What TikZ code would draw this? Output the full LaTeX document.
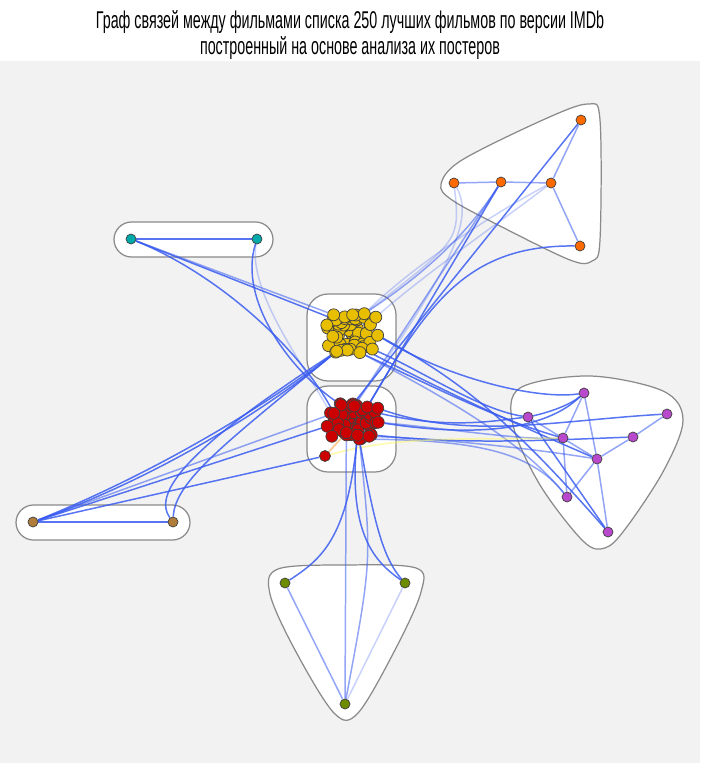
\documentclass[tikz,border=0pt]{standalone}
\usepackage{fontspec}
\newfontfamily\titlefont[FakeStretch=0.59]{Liberation Sans}
\usepackage{tikz}
\definecolor{panel-gray}{HTML}{F2F2F2}
\definecolor{hull-gray}{HTML}{8A8A8A}
\definecolor{link-blue}{HTML}{3A5CF0}
\definecolor{film-orange}{HTML}{FF6A00}
\definecolor{film-teal}{HTML}{00AAAA}
\definecolor{film-brown}{HTML}{B07D3A}
\definecolor{film-olive}{HTML}{6E8C00}
\definecolor{film-purple}{HTML}{B848CC}
\definecolor{film-yellow}{HTML}{E8BE00}
\definecolor{film-red}{HTML}{CC0000}
\pgfdeclarelayer{hulls}
\pgfdeclarelayer{links}
\pgfsetlayers{hulls,links,main}
\tikzset{
  film/.style={circle, draw=black!75, line width=0.4pt, fill=#1, inner sep=0pt, minimum size=0.2cm},
  blob-film/.style={film=#1, minimum size=0.24cm},
  cluster-hull/.style={draw=hull-gray, fill=white, line width=0.7pt},
  link/.style={draw=link-blue, line width=0.85pt, opacity=0.85},
  link-mid/.style={link, opacity=0.55},
  link-light/.style={link, opacity=0.28},
  title-text/.style={font=\titlefont\fontsize{13.8}{14.8}\selectfont, align=center, inner sep=0pt},
}

\begin{document}
\begin{tikzpicture}[x=0.02cm, y=-0.02cm]
\useasboundingbox (0,0) rectangle (700,763);
\node[title-text] (title) at (350,35) {Граф связей между фильмами списка 250 лучших фильмов по версии IMDb\\построенный на основе анализа их постеров};

% outer groups
\node[film=film-orange] (o1) at (454,183) {};
\node[film=film-orange] (o2) at (501,182) {};
\node[film=film-orange] (o3) at (551,183) {};
\node[film=film-orange] (o4) at (581,120) {};
\node[film=film-orange] (o5) at (580,246) {};
\node[film=film-teal] (t1) at (131,239) {};
\node[film=film-teal] (t2) at (257,239) {};
\node[film=film-brown] (b1) at (33,522) {};
\node[film=film-brown] (b2) at (173,522) {};
\node[film=film-olive] (g1) at (285,583) {};
\node[film=film-olive] (g2) at (405,583) {};
\node[film=film-olive] (g3) at (345,704) {};
\node[film=film-purple] (p1) at (584,393) {};
\node[film=film-purple] (p2) at (528,417) {};
\node[film=film-purple] (p3) at (667,414) {};
\node[film=film-purple] (p4) at (563,438) {};
\node[film=film-purple] (p5) at (633,437) {};
\node[film=film-purple] (p6) at (597,459) {};
\node[film=film-purple] (p7) at (567,497) {};
\node[film=film-purple] (p8) at (608,532) {};

% the two dense groups
\foreach \i in {1,...,60} {
  \pgfmathsetmacro{\px}{351+24*sqrt(\i/60)*cos(\i*137.508)+4.5*sin(\i*73)}
  \pgfmathsetmacro{\py}{333+23*sqrt(\i/60)*sin(\i*137.508)+4.5*cos(\i*51)}
  \node[blob-film=film-yellow] (y\i) at (\px,\py) {};
}
\node[film=film-red, minimum size=0.22cm] (rout) at (325,456) {};
\foreach \i in {1,...,60} {
  \pgfmathsetmacro{\px}{354+25*sqrt(\i/60)*cos(\i*137.508)+4*cos(\i*67)}
  \pgfmathsetmacro{\py}{421+19*sqrt(\i/60)*sin(\i*137.508)+4*sin(\i*59)}
  \node[blob-film=film-red] (r\i) at (\px,\py) {};
}

\begin{pgfonlayer}{hulls}
\fill[panel-gray] (0,61) rectangle (700,763);
\draw[cluster-hull, rounded corners=12pt] (307,294) rectangle (396,381);
\draw[cluster-hull, rounded corners=12pt] (307,386) rectangle (396,472);
\draw[cluster-hull, rounded corners=10pt] (114,222) rectangle (273,257);
\draw[cluster-hull, rounded corners=10pt] (16,505) rectangle (190,540);
\draw[cluster-hull] plot[smooth cycle, tension=0.55] coordinates {(441,184) (462,160) (545,119) (588,104) (600,120) (600,240) (592,261) (570,260) (500,226) (452,200)};
\draw[cluster-hull] plot[smooth cycle, tension=0.55] coordinates {(520,388) (590,376) (663,391) (683,420) (664,470) (626,528) (605,548) (583,541) (540,485) (513,425)};
\draw[cluster-hull] plot[smooth cycle, tension=0.55] coordinates {(278,569) (345,565) (416,568) (421,592) (396,648) (358,713) (334,713) (295,650) (270,594)};
\end{pgfonlayer}

\begin{pgfonlayer}{links}
% within groups
\draw[link] (t1) -- (t2);
\draw[link] (b1) -- (b2);
\draw[link-mid] (o1) -- (o2);
\draw[link-mid] (o2) -- (o3);
\draw[link-mid] (o3) -- (o4);
\draw[link-mid] (o3) -- (o5);
\draw[link-mid] (g1) -- (g3);
\draw[link-light] (g2) -- (g3);
\draw[link] (p2) .. controls (550,412) and (570,405) .. (p1);
\draw[link-mid] (p1) -- (p4);
\draw[link-mid] (p1) -- (p6);
\draw[link] (p2) -- (p8);
\draw[link-mid] (p2) -- (p6);
\draw[link-mid] (p4) -- (p7);
\draw[link-mid] (p5) -- (p3);
\draw[link-mid] (p5) -- (p6);
\draw[link-mid] (p6) -- (p7);
\draw[link-mid] (p6) -- (p8);
% teal and brown
\draw[link] (t1) -- (y46);
\draw[link-mid] (t1) -- (y54);
\draw[link] (t1) .. controls (220,275) and (300,350) .. (r59);
\draw[link] (t2) .. controls (238,300) and (290,370) .. (r54);
\draw[link-light] (t2) .. controls (248,290) and (300,360) .. (r46);
\draw[link] (b1) .. controls (150,475) and (260,410) .. (y56);
\draw[link] (b1) .. controls (150,480) and (260,415) .. (y48);
\draw[link] (b1) -- (r51);
\draw[link] (b1) -- (rout);
\draw[link-mid] (b1) -- (r59);
\draw[link] (b2) .. controls (150,490) and (200,440) .. (y48);
\draw[link] (b2) .. controls (175,480) and (230,440) .. (y56);
\draw[orange!70, opacity=0.6, line width=1pt] (rout) -- (r48);
% up to the orange group
\draw[link-light] (y52) .. controls (420,260) and (500,210) .. (o3);
\draw[link-light] (y60) .. controls (430,270) and (510,215) .. (o3);
\draw[link-mid] (y52) .. controls (430,270) and (470,230) .. (o2);
\draw[link] (r49) -- (o4);
\draw[link] (r52) -- (o2);
\draw[link-mid] (r57) -- (o2);
\draw[link] (r52) .. controls (430,300) and (470,245) .. (o5);
\draw[link-light] (o1) .. controls (475,220) and (450,270) .. (r57);
\draw[link-light] (o1) .. controls (460,240) .. (y52);
% across to the purple group
\draw[link] (y50) .. controls (420,370) and (480,410) .. (p2);
\draw[link] (y58) .. controls (440,390) and (500,420) .. (p4);
\draw[link] (y45) .. controls (450,395) and (530,430) .. (p6);
\draw[link] (y55) .. controls (460,380) and (510,420) .. (p8);
\draw[link-mid] (y58) .. controls (450,400) and (520,440) .. (p7);
\draw[link] (y55) .. controls (450,380) and (540,400) .. (p1);
\draw[link] (r55) .. controls (460,435) and (540,435) .. (p1);
\draw[link] (r47) .. controls (450,430) and (500,420) .. (p2);
\draw[link] (r60) .. controls (470,440) and (560,420) .. (p3);
\draw[link] (r50) .. controls (470,445) and (550,440) .. (p5);
\draw[link-mid] (r58) .. controls (460,440) and (540,450) .. (p6);
\draw[link-mid] (r45) .. controls (470,440) and (530,450) .. (p7);
\draw[link-mid] (r55) .. controls (460,430) and (520,440) .. (p4);
\draw[yellow!60, opacity=0.5, line width=1pt] (rout) .. controls (400,435) and (470,440) .. (p4);
% down to the olive group
\draw[link] (r53) .. controls (347,540) and (320,560) .. (g1);
\draw[link] (r53) .. controls (347,540) and (380,565) .. (g2);
\draw[link] (r45) .. controls (375,530) and (385,560) .. (g2);
\draw[link-mid] (r48) -- (g3);
\draw[link-mid] (r45) .. controls (372,560) .. (g3);
\end{pgfonlayer}
\end{tikzpicture}
\end{document}
